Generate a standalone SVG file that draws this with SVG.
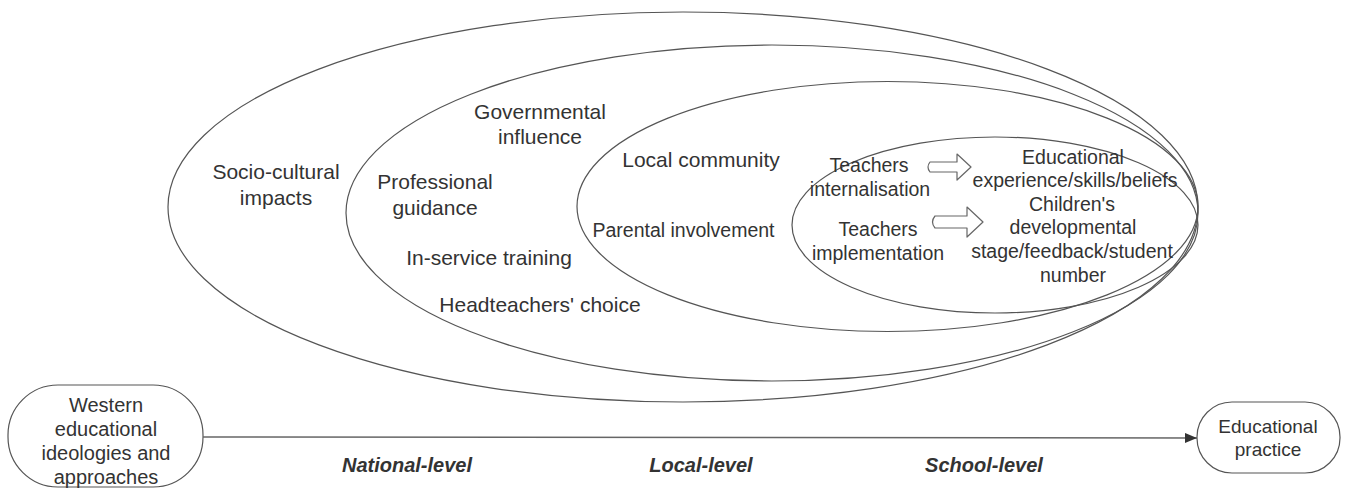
<svg xmlns="http://www.w3.org/2000/svg" width="1347" height="488" viewBox="0 0 1347 488">
  <style>
    .ring { fill: none; stroke: #555; stroke-width: 1.2; }
    .box { fill: #fff; stroke: #555; stroke-width: 1.2; }
    .blk { fill: #fff; stroke: #666; stroke-width: 1.2; stroke-linejoin: round; }
    .t { font-family: "Liberation Sans", Arial, sans-serif; fill: #333; text-anchor: middle; }
    .big { font-size: 21px; }
    .mid { font-size: 19.5px; }
    .lvl { font-family: "Liberation Sans", Arial, sans-serif; font-size: 20px; font-weight: bold; font-style: italic; fill: #333; text-anchor: middle; }
    .wire { fill: none; stroke: #666; stroke-width: 1.5; }
  </style>
  <defs>
    <marker id="head" viewBox="0 0 12 10" refX="12" refY="5" markerWidth="12" markerHeight="10" markerUnits="userSpaceOnUse" orient="auto">
      <path d="M0 0 L12 5 L0 10 Z" fill="#333"/>
    </marker>
  </defs>
  <rect width="1347" height="488" fill="#fff"/>

  <!-- nested levels of influence -->
  <g id="national-level">
    <ellipse class="ring" cx="683" cy="207" rx="515" ry="195"/>
    <text class="t big" x="276" y="179">Socio-cultural</text>
    <text class="t big" x="276" y="205">impacts</text>
  </g>
  <g id="governmental">
    <ellipse class="ring" cx="772" cy="213" rx="426" ry="168"/>
    <text class="t big" x="540" y="119">Governmental</text>
    <text class="t big" x="540" y="144">influence</text>
    <text class="t big" x="435" y="189">Professional</text>
    <text class="t big" x="435" y="215">guidance</text>
    <text class="t big" x="489" y="265">In-service training</text>
    <text class="t big" x="540" y="312">Headteachers' choice</text>
  </g>
  <g id="local-level">
    <ellipse class="ring" cx="887.5" cy="206.5" rx="310.5" ry="125"/>
    <text class="t big" x="701" y="167">Local community</text>
    <text class="t mid" x="683.5" y="237">Parental involvement</text>
  </g>
  <g id="school-level">
    <ellipse class="ring" cx="995" cy="225" rx="203" ry="88"/>
    <text class="t mid" x="869" y="172">Teachers</text>
    <text class="t mid" x="870" y="196">internalisation</text>
    <text class="t mid" x="878" y="236">Teachers</text>
    <text class="t mid" x="878" y="260">implementation</text>
    <text class="t mid" x="1073" y="164">Educational</text>
    <text class="t mid" x="1075" y="187">experience/skills/beliefs</text>
    <text class="t mid" x="1072" y="211">Children's</text>
    <text class="t mid" x="1073" y="234">developmental</text>
    <text class="t mid" x="1072" y="258">stage/feedback/student</text>
    <text class="t mid" x="1073" y="282">number</text>
  </g>

  <!-- block arrows inside the school level -->
  <g id="internalisation-arrow">
    <path class="blk" d="M930 162 L957 162 L957 154 L971 167 L957 180 L957 172 L930 172 Q926 167 930 162 Z"/>
  </g>
  <g id="implementation-arrow">
    <path class="blk" d="M935 216 L967 216 L967 207 L983 222 L967 237 L967 228 L935 228 Q930 222 935 216 Z"/>
  </g>

  <!-- source and outcome -->
  <g id="western-ideologies">
    <rect class="box" x="8" y="385" width="195" height="102" rx="50" ry="50"/>
    <text class="t" font-size="20" x="106" y="412">Western</text>
    <text class="t" font-size="20" x="106" y="436">educational</text>
    <text class="t" font-size="20" x="106" y="460">ideologies and</text>
    <text class="t" font-size="20" x="106" y="484">approaches</text>
  </g>
  <g id="educational-practice">
    <rect class="box" x="1197" y="402" width="143" height="71" rx="35" ry="35"/>
    <text class="t" font-size="19" x="1268" y="433">Educational</text>
    <text class="t" font-size="19" x="1268" y="456">practice</text>
  </g>

  <g id="connectors">
    <path class="wire" d="M203 437 L1197 438" marker-end="url(#head)"/>
  </g>

  <g id="level-labels">
    <text class="lvl" x="407" y="472">National-level</text>
    <text class="lvl" x="701" y="472">Local-level</text>
    <text class="lvl" x="984" y="472">School-level</text>
  </g>
</svg>
